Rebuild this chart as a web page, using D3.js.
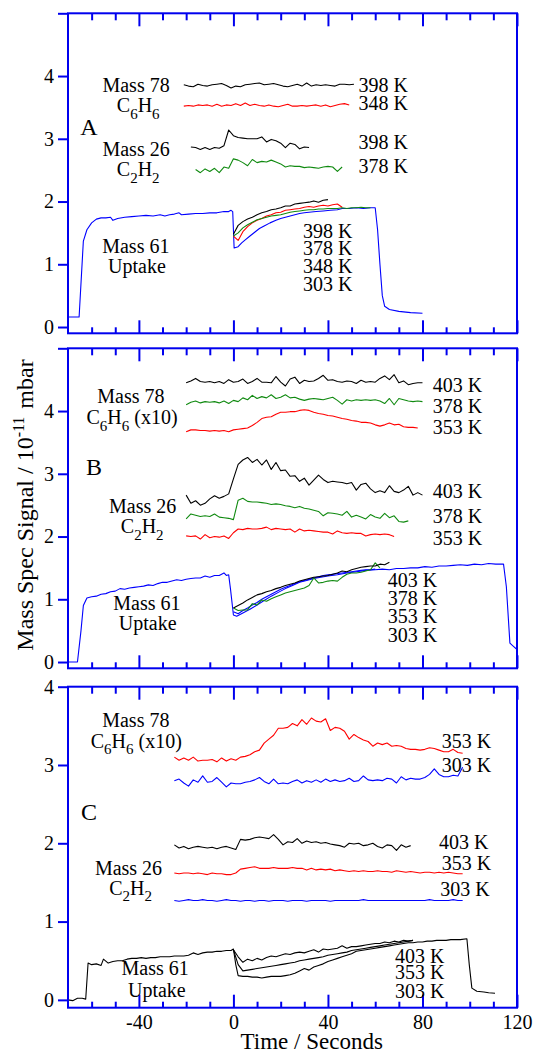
<!DOCTYPE html>
<html>
<head>
<meta charset="utf-8">
<script src="https://cdn.jsdelivr.net/npm/d3@7"></script>
<style>
  body { margin: 0; background: #fff; }
  svg { display: block; }
</style>
</head>
<body>
<div id="chart"></div>
<script>
const seq = (t0, vals) => vals.map((v, i) => [t0 + 2 * i, v])

// ---- panel A ----
const a78_398 = seq(-21, [3.86,3.84,3.83,3.87,3.85,3.84,3.86,3.87,3.88,3.85,3.81,3.84,3.83,3.86,3.87,3.88,3.89,3.86,3.87,3.88,3.86,3.84,3.83,3.85,3.87,3.84,3.89,3.84,3.86,3.85,3.86,3.85,3.84,3.87,3.87,3.86,3.87])
const a78_348 = seq(-21, [3.52,3.53,3.52,3.54,3.53,3.54,3.52,3.55,3.52,3.54,3.53,3.56,3.53,3.57,3.53,3.55,3.53,3.52,3.54,3.52,3.51,3.53,3.55,3.52,3.52,3.53,3.52,3.53,3.54,3.52,3.54,3.51,3.53,3.55,3.56,3.54])
const a26_398 = seq(-18, [2.87,2.86,2.83,2.86,2.83,2.86,2.85,2.89,3.14,3.05,3.02,3.01,3.00,3.00,3.00,3.03,2.95,2.99,2.97,2.93,2.86,2.93,2.91,2.84,2.87,2.86])
const a26_378 = seq(-16, [2.51,2.46,2.52,2.48,2.53,2.46,2.55,2.53,2.68,2.66,2.62,2.57,2.67,2.62,2.64,2.63,2.66,2.63,2.60,2.55,2.57,2.56,2.56,2.54,2.55,2.54,2.53,2.55,2.56,2.55,2.48,2.55])
const a61_303 = [[-70,0.16],[-65.3,0.16],[-63.5,1.37],[-62,1.55],[-60,1.66],[-58,1.72],[-56,1.74],[-54,1.74],[-52,1.75],[-51,1.70],[-49,1.73],[-46,1.75],[-43,1.76],[-40,1.77],[-37,1.78],[-34,1.77],[-31,1.79],[-29,1.77],[-27,1.79],[-25,1.80],[-23,1.82],[-22,1.79],[-19,1.80],[-16,1.81],[-13,1.81],[-10,1.82],[-7,1.82],[-4,1.84],[-2,1.84],[-1,1.86],[-0.3,1.84],[0.3,1.26],[2,1.28],[3.5,1.34],[5,1.39],[7,1.45],[9,1.51],[11,1.57],[13,1.61],[15.5,1.66],[18,1.70],[20,1.73],[22,1.75],[24,1.77],[26,1.79],[28,1.81],[30,1.82],[32,1.83],[35,1.84],[38,1.85],[41,1.86],[44,1.87],[46,1.89],[49,1.89],[52,1.90],[55,1.89],[58,1.90],[60,1.90],[61,1.55],[62,1.0],[63,0.5],[64,0.33],[66,0.28],[70,0.25],[75,0.23],[80,0.22]]
const a61_398 = seq(0, [1.48,1.62,1.68,1.72,1.75,1.79,1.82,1.84,1.87,1.88,1.90,1.93,1.93,1.96,1.97,1.98,1.99,2.01,1.99,2.02,2.03])
const a61_378 = seq(0, [1.45,1.50,1.58,1.63,1.67,1.71,1.73,1.75,1.77,1.78,1.79,1.81,1.83,1.84,1.85,1.86,1.87,1.87,1.88,1.88,1.89,1.89,1.89,1.90,1.89,1.90,1.90,1.91,1.90,1.90])
const a61_348 = seq(0, [1.45,1.38,1.52,1.60,1.66,1.70,1.73,1.77,1.79,1.82,1.83,1.86,1.87,1.88,1.89,1.91,1.92,1.91,1.93,1.94,1.93,1.95,1.96,1.91])

// ---- panel B ----
const b78_403 = seq(-20, [4.45,4.48,4.52,4.47,4.46,4.47,4.45,4.47,4.44,4.50,4.46,4.47,4.51,4.44,4.47,4.52,4.46,4.46,4.45,4.55,4.46,4.40,4.51,4.54,4.44,4.49,4.47,4.48,4.52,4.57,4.49,4.50,4.47,4.46,4.48,4.47,4.44,4.49,4.46,4.47,4.46,4.52,4.56,4.50,4.58,4.45,4.48,4.42,4.44,4.45,4.45])
const b78_378 = seq(-20, [4.10,4.14,4.16,4.13,4.15,4.14,4.15,4.13,4.16,4.12,4.17,4.15,4.21,4.18,4.25,4.20,4.23,4.21,4.26,4.20,4.22,4.26,4.21,4.22,4.19,4.17,4.19,4.20,4.19,4.18,4.20,4.22,4.17,4.11,4.18,4.16,4.18,4.17,4.18,4.17,4.18,4.16,4.12,4.20,4.10,4.20,4.18,4.16,4.15,4.16,4.15])
const b78_353 = seq(-20, [3.67,3.70,3.70,3.69,3.69,3.68,3.69,3.68,3.69,3.67,3.70,3.71,3.72,3.73,3.77,3.82,3.88,3.90,3.91,3.95,3.98,3.98,3.99,3.99,4.01,4.02,4.01,3.98,3.96,3.95,3.93,3.92,3.90,3.88,3.87,3.85,3.84,3.82,3.82,3.81,3.78,3.76,3.78,3.81,3.78,3.79,3.75,3.74,3.74,3.73])
const b26_403 = seq(-20, [2.66,2.53,2.57,2.50,2.53,2.60,2.65,2.61,2.64,2.68,2.92,3.15,3.22,3.26,3.18,3.23,3.14,3.22,3.07,3.18,3.05,3.06,2.96,2.97,2.88,2.93,2.82,2.90,2.98,2.91,2.86,2.88,2.87,2.86,2.84,2.86,2.74,2.83,2.85,2.76,2.70,2.73,2.70,2.81,2.72,2.70,2.74,2.80,2.66,2.70,2.66])
const b26_378 = seq(-20, [2.28,2.36,2.34,2.32,2.33,2.32,2.36,2.31,2.30,2.29,2.27,2.58,2.61,2.56,2.55,2.55,2.54,2.53,2.51,2.52,2.51,2.49,2.48,2.46,2.48,2.45,2.44,2.42,2.40,2.33,2.38,2.37,2.36,2.34,2.40,2.31,2.34,2.31,2.28,2.35,2.31,2.29,2.37,2.30,2.33,2.24,2.23,2.25])
const b26_353 = seq(-20, [2.01,2.00,2.01,1.96,2.03,1.98,2.00,1.99,2.01,1.97,2.06,2.12,2.11,2.13,2.12,2.12,2.13,2.15,2.11,2.13,2.12,2.11,2.12,2.07,2.12,2.09,2.10,2.09,2.08,2.07,2.07,2.04,2.09,2.06,2.05,2.06,2.05,2.05,2.01,2.03,2.04,2.03,2.04,2.03,2.00])
const b61_303 = [[-70,0],[-66,0],[-64.5,0.5],[-63.5,0.9],[-62,1.02],[-60,1.04],[-58,1.05],[-56,1.08],[-54,1.09],[-52,1.12],[-50,1.13],[-48,1.17],[-46,1.16],[-44,1.18],[-42,1.19],[-40,1.20],[-38,1.21],[-36,1.23],[-34,1.22],[-32,1.25],[-30,1.27],[-28,1.27],[-26,1.29],[-24,1.31],[-22,1.30],[-20,1.32],[-18,1.33],[-16,1.34],[-14,1.34],[-12,1.37],[-10,1.35],[-8,1.38],[-6,1.38],[-4,1.42],[-3,1.38],[-2,1.39],[-1.2,1.15],[0,0.75],[1.4,0.73],[4,0.78],[7,0.84],[10,0.91],[13,0.98],[16,1.05],[19,1.11],[22,1.17],[25,1.22],[28,1.27],[31,1.30],[34,1.33],[37,1.35],[40,1.37],[44,1.39],[48,1.42],[52,1.44],[56,1.46],[60,1.47],[63,1.48],[66,1.47],[69,1.49],[72,1.49],[75,1.50],[78,1.50],[81,1.52],[84,1.51],[87,1.53],[90,1.53],[93,1.54],[96,1.55],[99,1.54],[102,1.56],[105,1.55],[108,1.57],[111,1.56],[114.3,1.56],[115.5,1.2],[117,0.30],[118.5,0.25],[120,0.20]]
const b61_403 = seq(0, [0.86,0.90,0.94,0.99,1.03,1.07,1.09,1.12,1.14,1.17,1.19,1.22,1.24,1.26,1.29,1.31,1.33,1.35,1.36,1.37,1.38,1.40,1.42,1.45,1.44,1.47,1.49,1.51,1.52,1.53,1.53,1.56,1.55,1.59])
const b61_378 = seq(0, [0.86,0.82,0.83,0.83,0.93,0.91,0.99,0.97,1.01,1.04,1.07,1.10,1.12,1.14,1.16,1.18,1.22,1.34,1.26,1.27,1.29,1.30,1.29,1.35,1.40,1.42,1.42,1.43,1.45,1.47,1.58,1.50])
const b61_353 = seq(0, [0.80,0.77,0.82,0.86,0.91,0.95,1.00,1.04,1.08,1.12,1.16,1.19,1.22,1.25,1.28,1.30,1.32,1.34,1.36,1.38,1.39,1.40,1.41,1.42,1.43,1.44,1.45,1.46,1.47,1.47,1.48])

// ---- panel C ----
const c78_353 = seq(-25, [3.10,3.06,3.09,3.06,3.10,3.05,3.06,3.06,3.07,3.04,3.09,3.05,3.08,3.06,3.10,3.11,3.13,3.17,3.19,3.28,3.33,3.38,3.47,3.47,3.48,3.53,3.50,3.58,3.52,3.60,3.56,3.55,3.59,3.44,3.48,3.47,3.43,3.33,3.39,3.35,3.32,3.30,3.24,3.28,3.26,3.28,3.24,3.25,3.24,3.21,3.20,3.20,3.19,3.20,3.22,3.21,3.19,3.17,3.17,3.20,3.16,3.15])
const c78_303 = seq(-25, [2.80,2.82,2.77,2.73,2.81,2.78,2.86,2.78,2.79,2.84,2.78,2.72,2.77,2.76,2.76,2.78,2.79,2.81,2.84,2.79,2.76,2.82,2.76,2.77,2.76,2.79,2.81,2.77,2.80,2.78,2.81,2.78,2.82,2.79,2.81,2.79,2.80,2.83,2.79,2.80,2.86,2.81,2.80,2.81,2.80,2.83,2.82,2.77,2.85,2.81,2.83,2.82,2.82,2.84,2.88,2.95,2.88,2.85,2.85,2.87,2.86,2.97])
const c26_403 = seq(-25, [1.98,1.94,1.96,1.93,1.95,1.96,1.95,1.94,1.95,1.93,1.95,1.96,1.94,1.92,2.05,2.04,2.05,2.07,2.08,2.07,2.06,2.11,2.05,1.98,2.02,2.01,2.06,2.00,2.03,2.01,2.02,2.00,2.01,1.99,1.98,1.97,1.95,2.00,1.99,2.00,1.97,1.98,2.00,1.96,1.94,1.98,1.97,1.91,1.98,1.95,1.97])
const c26_353 = seq(-25, [1.62,1.61,1.62,1.62,1.61,1.62,1.61,1.60,1.62,1.61,1.61,1.60,1.60,1.62,1.67,1.68,1.69,1.70,1.68,1.68,1.68,1.69,1.68,1.68,1.68,1.69,1.68,1.68,1.66,1.68,1.66,1.67,1.66,1.67,1.65,1.66,1.65,1.64,1.65,1.64,1.65,1.64,1.64,1.65,1.64,1.64,1.63,1.65,1.64,1.63,1.64,1.63,1.62,1.63,1.63,1.62,1.63,1.62,1.63,1.62,1.61,1.61])
const c26_303 = seq(-25, [1.27,1.26,1.27,1.28,1.27,1.27,1.28,1.27,1.27,1.26,1.27,1.28,1.27,1.27,1.26,1.27,1.27,1.26,1.27,1.27,1.26,1.27,1.27,1.27,1.26,1.27,1.27,1.27,1.26,1.27,1.27,1.27,1.27,1.26,1.27,1.27,1.27,1.27,1.27,1.27,1.28,1.27,1.27,1.27,1.27,1.27,1.27,1.27,1.27,1.27,1.27,1.27,1.27,1.27,1.28,1.27,1.27,1.27,1.27,1.28,1.27,1.27])
const c61_303 = [[-70,0],[-68,-0.01],[-66,0.02],[-64,0.02],[-62.5,0.01],[-61.5,0.47],[-60,0.45],[-58,0.46],[-56,0.44],[-55,0.52],[-53,0.47],[-51,0.49],[-49,0.50],[-47,0.50],[-45,0.52],[-43,0.53],[-41,0.53],[-39,0.54],[-37,0.53],[-35,0.54],[-33,0.54],[-31,0.55],[-29,0.55],[-27,0.55],[-25,0.56],[-23,0.56],[-21,0.56],[-19,0.57],[-17,0.60],[-15,0.58],[-13,0.60],[-11,0.61],[-9,0.61],[-7,0.62],[-5,0.62],[-3,0.63],[-1,0.63],[0,0.65],[1,0.45],[2,0.31],[4,0.30],[6,0.30],[8,0.29],[10,0.29],[12,0.28],[14,0.29],[16,0.30],[18,0.30],[20,0.30],[22,0.31],[24,0.32],[26,0.34],[28,0.37],[30,0.40],[32,0.38],[34,0.42],[36,0.44],[38,0.46],[40,0.49],[42,0.51],[44,0.53],[46,0.55],[48,0.57],[50,0.59],[52,0.62],[54,0.63],[56,0.64],[58,0.65],[60,0.66],[62,0.67],[64,0.68],[66,0.69],[68,0.70],[70,0.71],[72,0.72],[74,0.73],[76,0.73],[78,0.74],[80,0.74],[82,0.75],[84,0.75],[86,0.76],[88,0.76],[90,0.76],[92,0.77],[94,0.77],[96,0.77],[98.8,0.78],[99.8,0.45],[100.9,0.15],[103,0.11],[106,0.10],[108,0.09],[110.7,0.085]]
const c61_403 = seq(0, [0.64,0.55,0.48,0.52,0.50,0.53,0.51,0.54,0.56,0.55,0.57,0.59,0.58,0.60,0.61,0.60,0.62,0.64,0.61,0.65,0.64,0.65,0.66,0.69,0.66,0.68,0.68,0.69,0.70,0.71,0.72,0.72,0.74,0.73,0.75,0.74,0.76,0.75,0.76])
const c61_353 = seq(0, [0.64,0.45,0.37,0.38,0.39,0.40,0.41,0.42,0.43,0.44,0.45,0.46,0.47,0.48,0.50,0.51,0.52,0.53,0.54,0.55,0.57,0.58,0.59,0.60,0.61,0.63,0.64,0.65,0.66,0.67,0.68,0.69,0.70,0.71,0.72,0.73,0.74,0.75,0.76])

// annotations: [text, time, signal, anchor]  (_n marks a subscript)
const notesA = [
  ["Mass 78", -41.2, 3.86, "middle"], ["C_6H_6", -40.3, 3.53, "middle"],
  ["Mass 26", -41.2, 2.83, "middle"], ["C_2H_2", -40.3, 2.51, "middle"],
  ["Mass 61", -41.3, 1.285, "middle"], ["Uptake", -40.8, 0.967, "middle"],
  ["398 K", 52.9, 3.85, "start"], ["348 K", 52.9, 3.56, "start"],
  ["398 K", 52.9, 2.94, "start"], ["378 K", 52.9, 2.56, "start"],
  ["398 K", 29.4, 1.53, "start"], ["378 K", 29.4, 1.25, "start"],
  ["348 K", 29.4, 0.97, "start"], ["303 K", 29.4, 0.69, "start"]
]
const notesB = [
  ["Mass 78", -43.4, 4.23, "middle"], ["C_6H_6 (x10)", -42.9, 3.895, "middle"],
  ["Mass 26", -38.4, 2.49, "middle"], ["C_2H_2", -38.6, 2.16, "middle"],
  ["Mass 61", -36.6, 0.94, "middle"], ["Uptake", -36.3, 0.62, "middle"],
  ["403 K", 84.4, 4.415, "start"], ["378 K", 84.4, 4.08, "start"], ["353 K", 84.4, 3.74, "start"],
  ["403 K", 84.4, 2.72, "start"], ["378 K", 84.4, 2.33, "start"], ["353 K", 84.4, 1.97, "start"],
  ["403 K", 65.3, 1.31, "start"], ["378 K", 65.3, 1.02, "start"],
  ["353 K", 65.3, 0.73, "start"], ["303 K", 65.3, 0.435, "start"]
]
const notesC = [
  ["Mass 78", -41.3, 3.576, "middle"], ["C_6H_6 (x10)", -41.1, 3.31, "middle"],
  ["Mass 26", -44.4, 1.68, "middle"], ["C_2H_2", -43.5, 1.43, "middle"],
  ["Mass 61", -33.1, 0.41, "middle"], ["Uptake", -32.4, 0.12, "middle"],
  ["353 K", 88.2, 3.31, "start"], ["303 K", 88.2, 3.0, "start"],
  ["403 K", 87.0, 2.02, "start"], ["353 K", 88.2, 1.745, "start"], ["303 K", 87.5, 1.41, "start"],
  ["403 K", 68.4, 0.56, "start"], ["353 K", 68.4, 0.35, "start"], ["303 K", 68.4, 0.115, "start"]
]

const majorTicks = [-40, 0, 40, 80, 120]
const minorTicks = [-60, -50, -30, -20, -10, 10, 20, 30, 50, 60, 70, 90, 100, 110]

const RED = "#ff0000", GREEN = "#108a10", BLUE = "#0000ff", BLACK = "#000000"
const AXIS = "#0000ee"
const SERIF = "Liberation Serif"

const panels = [
  {
    letter: "A", letterAt: [-61.1, 3.20], top: 13.3, bottom: 333.3, yDomain: [-0.1, 5], yTicks: [0, 1, 2, 3, 4, 5],
    notes: notesA, labels: false,
    series: [
      [a61_303, BLUE], [a61_348, RED], [a61_378, GREEN], [a61_398, BLACK],
      [a78_398, BLACK], [a78_348, RED], [a26_398, BLACK], [a26_378, GREEN]
    ]
  },
  {
    letter: "B", letterAt: [-59.0, 3.115], top: 348.3, bottom: 668.3, yDomain: [-0.1, 5], yTicks: [0, 1, 2, 3, 4, 5],
    notes: notesB, labels: false,
    series: [
      [b61_303, BLUE], [b61_353, BLUE], [b61_378, GREEN], [b61_403, BLACK],
      [b78_403, BLACK], [b78_378, GREEN], [b78_353, RED],
      [b26_403, BLACK], [b26_378, GREEN], [b26_353, RED]
    ]
  },
  {
    letter: "C", letterAt: [-61.1, 2.405], top: 686.7, bottom: 1007.7, yDomain: [-0.1, 4], yTicks: [0, 1, 2, 3, 4],
    notes: notesC, labels: true,
    series: [
      [c61_303, BLACK], [c61_353, BLACK], [c61_403, BLACK],
      [c78_353, RED], [c78_303, BLUE],
      [c26_403, BLACK], [c26_353, RED], [c26_303, BLUE]
    ]
  }
]

const W = 537, H = 1053
const svg = d3.select("#chart").append("svg")
  .attr("width", W)
  .attr("height", H)
  .attr("font-family", SERIF)

const x = d3.scaleLinear([-70, 120], [68, 517])

function addFormula(sel, str) {
  // pieces alternate normal / subscript
  const parts = str.split(/_(\d+)/)
  parts.forEach((p, i) => {
    if (!p) return
    const sub = i % 2 == 1
    sel.append("tspan")
      .attr("font-size", sub ? 15 : null)
      .attr("dy", sub ? 6.5 : (i > 0 ? -6.5 : null))
      .text(p)
  })
}

function styleAxis(g) {
  g.select(".domain").remove()
  g.selectAll(".tick line").attr("stroke", AXIS).attr("stroke-width", 2)
  g.attr("font-family", SERIF).attr("font-size", 20)
  g.selectAll(".tick text").attr("fill", "#000")
}

for (const p of panels) {
  const y = d3.scaleLinear(p.yDomain, [p.bottom, p.top])
  const g = svg.append("g")

  const line = d3.line()
    .x(d => x(d[0]))
    .y(d => y(d[1]))

  g.append("g")
    .attr("fill", "none")
    .attr("stroke-width", 1.1)
    .attr("stroke-linejoin", "round")
    .selectAll("path")
    .data(p.series)
    .join("path")
      .attr("stroke", d => d[1])
      .attr("d", d => line(d[0]))

  // frame
  g.append("rect")
    .attr("x", x.range()[0])
    .attr("y", p.top)
    .attr("width", x.range()[1] - x.range()[0])
    .attr("height", p.bottom - p.top)
    .attr("fill", "none")
    .attr("stroke", AXIS)
    .attr("stroke-width", 2)

  g.append("g")
    .attr("transform", `translate(${x.range()[0]},0)`)
    .call(d3.axisLeft(y).tickValues(p.yTicks).tickSize(10).tickPadding(4)
      .tickFormat(d => d == 5 ? "" : d))
    .call(styleAxis)

  g.append("g")
    .attr("transform", `translate(0,${p.bottom})`)
    .call(d3.axisBottom(x).tickValues(majorTicks).tickSize(-13).tickPadding(7)
      .tickFormat(d => p.labels ? String(d) : ""))
    .call(styleAxis)
  g.append("g")
    .attr("transform", `translate(0,${p.bottom})`)
    .call(d3.axisBottom(x).tickValues(minorTicks).tickSize(-6).tickFormat(""))
    .call(styleAxis)
  g.append("g")
    .attr("transform", `translate(0,${p.top})`)
    .call(d3.axisTop(x).tickValues(majorTicks).tickSize(-13).tickFormat(""))
    .call(styleAxis)
  g.append("g")
    .attr("transform", `translate(0,${p.top})`)
    .call(d3.axisTop(x).tickValues(minorTicks).tickSize(-7).tickFormat(""))
    .call(styleAxis)

  g.append("text")
    .attr("x", x(p.letterAt[0]))
    .attr("y", y(p.letterAt[1]))
    .attr("dy", "0.35em")
    .attr("text-anchor", "middle")
    .attr("font-family", SERIF)
    .attr("font-size", 24)
    .text(p.letter)

  g.append("g")
    .attr("font-family", SERIF)
    .attr("font-size", 20)
    .attr("fill", "#000")
    .selectAll("text")
    .data(p.notes)
    .join("text")
      .attr("x", d => x(d[1]))
      .attr("y", d => y(d[2]))
      .attr("dy", "0.34em")
      .attr("text-anchor", d => d[3])
      .each(function(d) { addFormula(d3.select(this), d[0]) })
}

// axis titles
const yTitle = svg.append("text")
  .attr("transform", "translate(33,505) rotate(-90)")
  .attr("text-anchor", "middle")
  .attr("font-family", SERIF)
  .attr("font-size", 24)
yTitle.append("tspan").text("Mass Spec Signal / 10")
yTitle.append("tspan").attr("font-size", 16).attr("dy", -9).text("-11")
yTitle.append("tspan").attr("dy", 9).attr("dx", 8).text("mbar")

svg.append("text")
  .attr("x", 311.7)
  .attr("y", 1049)
  .attr("text-anchor", "middle")
  .attr("font-family", SERIF)
  .attr("font-size", 23)
  .text("Time / Seconds")
</script>
</body>
</html>
